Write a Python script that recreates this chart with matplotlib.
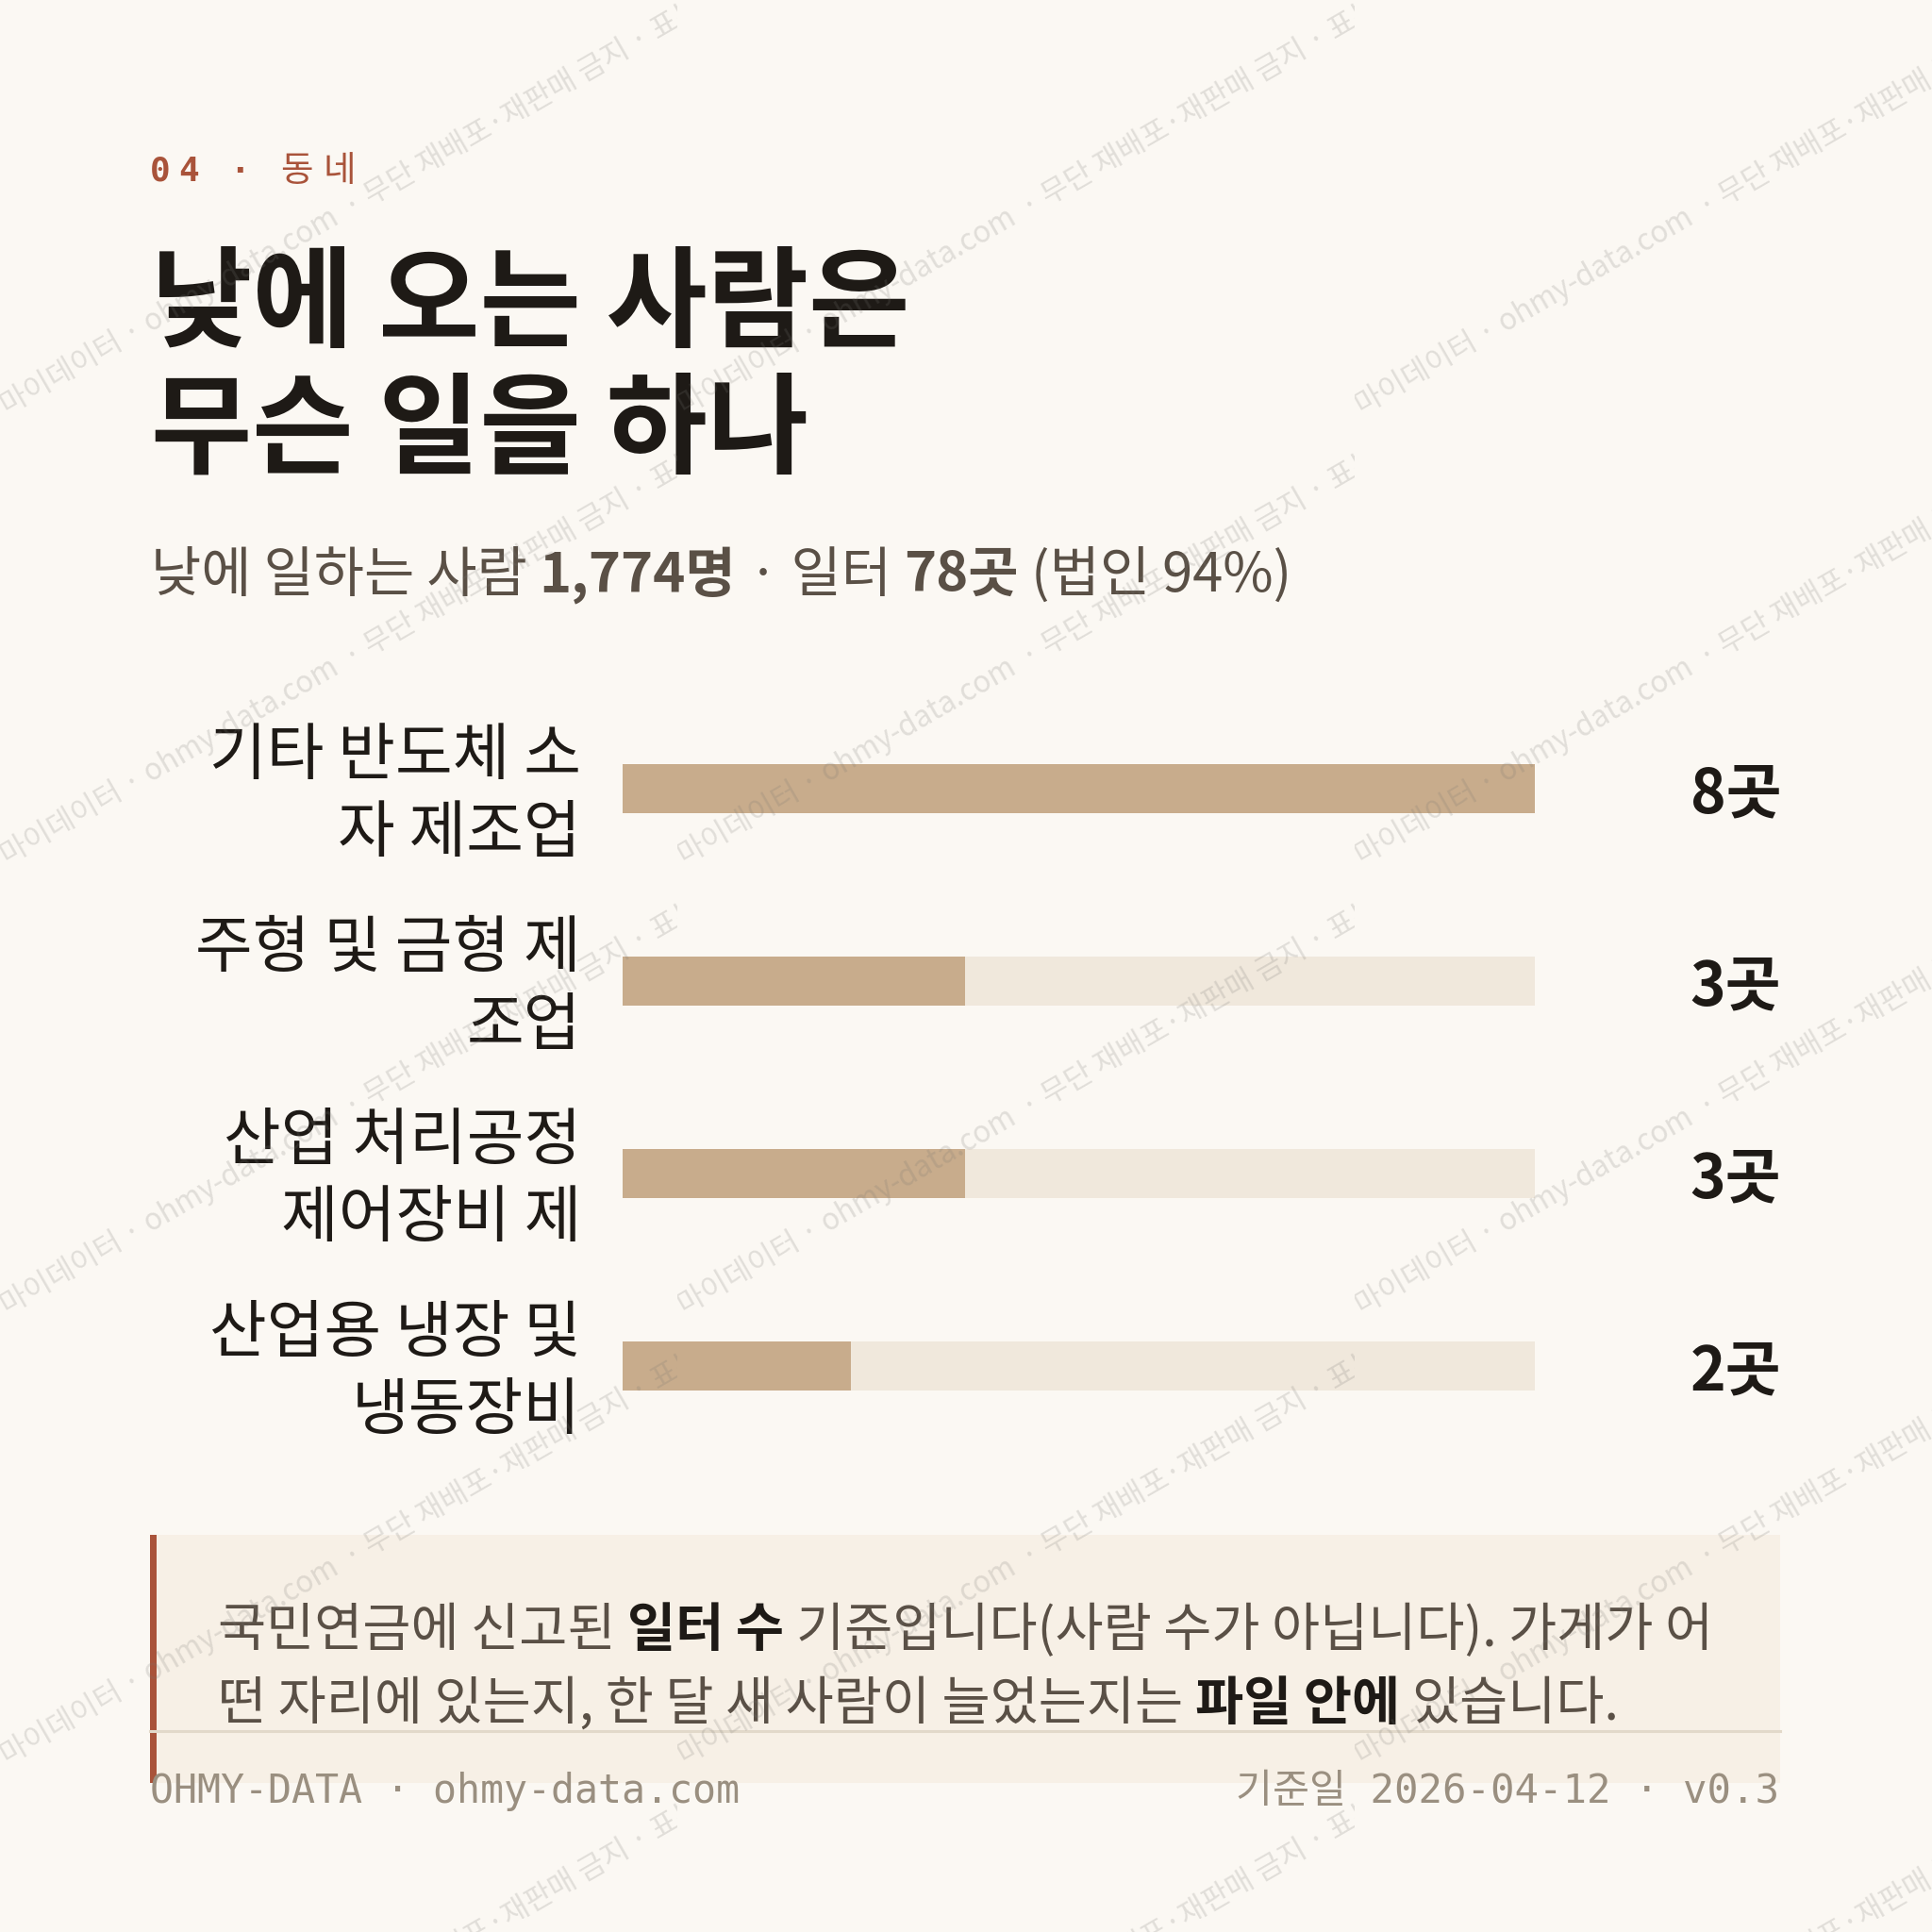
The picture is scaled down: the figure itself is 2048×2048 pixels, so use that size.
import matplotlib
matplotlib.use("Agg")
import math
import matplotlib.pyplot as plt
from matplotlib.patches import Rectangle

# ---------------- data ----------------
categories = ["기타 반도체 소\n자 제조업", "주형 및 금형 제\n조업", "산업 처리공정\n제어장비 제", "산업용 냉장 및\n냉동장비"]
values = [8, 3, 3, 2]
unit = "곳"
kicker = ["0", "4", " ", "·", " ", "동", "네"]
title_lines = ["낮에 오는 사람은", "무슨 일을 하나"]
subtitle_runs = [("낮에 일하는 사람 ", False), ("1,774명", True), (" · 일터 ", False),
                 ("78곳", True), (" (법인 94%)", False)]
note_lines = [[("국민연금에 신고된 ", False), ("일터 수", True), (" 기준입니다(사람 수가 아닙니다). 가게가 어", False)],
              [("떤 자리에 있는지, 한 달 새 사람이 늘었는지는 ", False), ("파일 안에", True), (" 있습니다.", False)]]
footer_left = "OHMY-DATA · ohmy-data.com"
footer_right = "기준일 2026-04-12 · v0.3"
wm_left = "표본 · 마이데이터 · ohmy-data.com"
wm_right = "· 무단 재배포·재판매 금지 · 표본 데이터"

# ---------------- style ----------------
W = H = 2048
DPI = 100
BG = "#FBF8F3"
RUST = "#A9533A"
INK = "#1E1A16"
SUB = "#5A5046"
FILL = "#C8AC8C"
TRACK = "#F0E8DC"
NOTE_BG = "#F7F0E6"
NOTE_LINE = "#E2D9CA"
FOOT = "#9A8F80"
KR = "Noto Sans CJK KR"
MONO = ["DejaVu Sans Mono", "Noto Sans CJK KR"]

plt.rcParams["font.family"] = [KR, "DejaVu Sans"]

fig = plt.figure(figsize=(W / DPI, H / DPI), dpi=DPI, facecolor=BG)
bg = fig.add_axes([0, 0, 1, 1])
bg.set_xlim(0, W)
bg.set_ylim(H, 0)
bg.axis("off")
R = fig.canvas.get_renderer()


def text_w(s, size, weight="normal", family=KR):
    if not s:
        return 0.0
    t = bg.text(0, 0, s, fontsize=size, fontweight=weight, family=family)
    w = t.get_window_extent(R).width
    t.remove()
    return w


def space_w(size, weight="normal", family=KR):
    return text_w("가 가", size, weight, family) - text_w("가가", size, weight, family)


def draw_runs(x, y, runs, size, color_reg, color_bold):
    for s, b in runs:
        wt = "bold" if b else "normal"
        sp = space_w(size, wt)
        lead = len(s) - len(s.lstrip(" "))
        trail = len(s) - len(s.rstrip(" "))
        core = s.strip(" ")
        x += lead * sp
        bg.text(x, y, core, fontsize=size, fontweight=wt, family=KR,
                color=color_bold if b else color_reg, va="baseline", ha="left")
        x += text_w(core, size, wt) + trail * sp
    return x


# ---------------- kicker ----------------
ks = 26
kx = 159
for ch in kicker:
    if ch == " ":
        kx += 24
    elif ord(ch) < 0x1100:
        bg.text(kx, 192, ch, fontsize=ks, fontweight="bold", family=MONO, color=RUST,
                va="baseline", ha="left")
        kx += 30
    else:
        bg.text(kx, 192, ch, fontsize=ks + 1, family=KR, color=RUST, va="baseline", ha="left")
        kx += 46

# ---------------- title ----------------
title_y = [359, 493]
for line, ty in zip(title_lines, title_y):
    bg.text(160, ty, line, fontsize=84, fontweight="bold", family=KR,
            color=INK, va="baseline", ha="left")

# ---------------- subtitle ----------------
draw_runs(160, 627, subtitle_runs, 41.7, SUB, SUB)

# ---------------- bars ----------------
ax = fig.add_axes([660 / W, (H - 1550) / H, 967 / W, 816 / H])
ax.set_facecolor("none")
ypos = list(range(len(categories)))
vmax = max(values)
ax.barh(ypos, [vmax] * len(values), height=0.255, color=TRACK, zorder=1)
ax.barh(ypos, values, height=0.255, color=FILL, zorder=2)
ax.set_xlim(0, vmax)
ax.set_ylim(len(categories) - 0.5, -0.5)
ax.set_yticks([])
ax.set_xticks([])
for s in ax.spines.values():
    s.set_visible(False)
lab_x = -44 / 967
for yi, lab in zip(ypos, categories):
    ax.text(lab_x, yi + 0.035, lab, transform=ax.get_yaxis_transform(), ha="right",
            va="center", fontsize=47.5, color=INK, family=KR, linespacing=1.27)
for yi, v in zip(ypos, values):
    ax.text(1.27, yi + 0.035, f"{v}{unit}", transform=ax.get_yaxis_transform(), ha="right",
            va="center", fontsize=46, fontweight="bold", color=INK, family=KR)

# ---------------- note box ----------------
bg.add_patch(Rectangle((159, 1627), 1728, 263, facecolor=NOTE_BG, edgecolor="none", zorder=0))
bg.add_patch(Rectangle((159, 1627), 7, 263, facecolor=RUST, edgecolor="none", zorder=1))
bg.plot([159, 1887], [1835, 1835], color=NOTE_LINE, lw=2.2, zorder=1)
for i, runs in enumerate(note_lines):
    draw_runs(231, 1745 + i * 78, runs, 40, SUB, INK)

# ---------------- footer ----------------
bg.text(159, 1911, footer_left, fontsize=30, family=MONO, color=FOOT, va="baseline", ha="left")
bg.text(1886, 1911, footer_right, fontsize=30.5, family=MONO, color=FOOT, va="baseline", ha="right")

# ---------------- watermark ----------------
wm = fig.add_axes([0, 0, 1, 1], zorder=10)
wm.set_xlim(0, W)
wm.set_ylim(H, 0)
wm.axis("off")
wm.patch.set_visible(False)
TW, TH = 718, 477
X0, Y0 = 0, -6
ang = 30
ca, sa = math.cos(math.radians(ang)), math.sin(math.radians(ang))
for i in range(0, 3):
    for j in range(-1, 5):
        tx, ty = X0 + i * TW, Y0 + j * TH
        cx, cy = tx + 372, ty + 236
        clip = Rectangle((tx, ty), TW, TH, transform=wm.transData, facecolor="none")
        g = 12
        t1 = wm.text(cx - g * ca, cy + g * sa, wm_left, rotation=ang, rotation_mode="anchor",
                     ha="right", va="baseline", fontsize=22.5, family=KR, color="#787672",
                     alpha=0.2, clip_on=True)
        t2 = wm.text(cx, cy, wm_right, rotation=ang, rotation_mode="anchor",
                     ha="left", va="baseline", fontsize=22.5, family=KR, color="#787672",
                     alpha=0.2, clip_on=True)
        t1.set_clip_path(clip)
        t2.set_clip_path(clip)

fig.savefig("out.png", dpi=DPI, facecolor=BG)
